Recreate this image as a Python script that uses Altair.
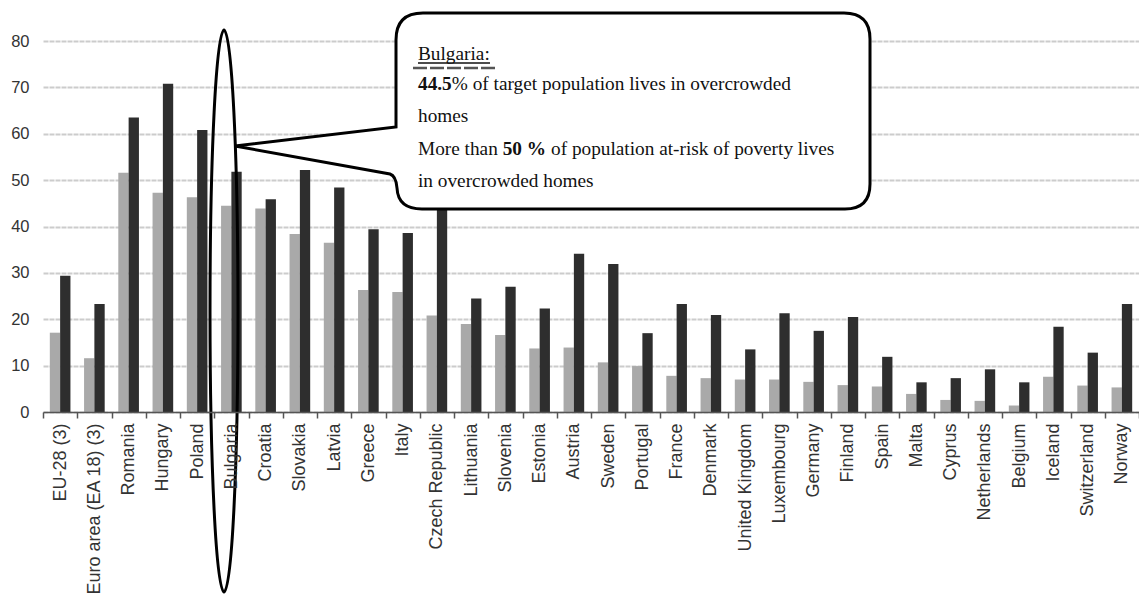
import altair as alt
import pandas as pd

# Overcrowding rate (%) by country
countries = [
    "EU-28 (3)", "Euro area (EA 18) (3)", "Romania", "Hungary", "Poland", "Bulgaria",
    "Croatia", "Slovakia", "Latvia", "Greece", "Italy", "Czech Republic", "Lithuania",
    "Slovenia", "Estonia", "Austria", "Sweden", "Portugal", "France", "Denmark",
    "United Kingdom", "Luxembourg", "Germany", "Finland", "Spain", "Malta", "Cyprus",
    "Netherlands", "Belgium", "Iceland", "Switzerland", "Norway",
]
total_population = [
    17.1, 11.6, 51.6, 47.3, 46.3, 44.5, 43.9, 38.4, 36.5, 26.3, 25.9, 20.8, 19.0,
    16.6, 13.7, 13.9, 10.7, 9.9, 7.8, 7.3, 7.0, 7.0, 6.5, 5.8, 5.5, 3.9, 2.6,
    2.4, 1.4, 7.6, 5.7, 5.3,
]
at_risk_of_poverty = [
    29.4, 23.3, 63.5, 70.8, 60.8, 51.8, 45.9, 52.2, 48.4, 39.4, 38.6, 43.6, 24.5,
    27.0, 22.3, 34.1, 31.9, 17.0, 23.3, 20.9, 13.5, 21.3, 17.5, 20.5, 11.9, 6.4, 7.3,
    9.2, 6.4, 18.4, 12.8, 23.3,
]
y_ticks = [0, 10, 20, 30, 40, 50, 60, 70, 80]

series = ["Total population", "Population at risk of poverty"]
series_colors = ["#a9a9a9", "#2e2e2e"]

rows = []
for c, a, b in zip(countries, total_population, at_risk_of_poverty):
    rows.append({"country": c, "series": series[0], "rate": a})
    rows.append({"country": c, "series": series[1], "rate": b})
bars_df = pd.DataFrame(rows)

# plot origin inside the page (padding)
OX, OY = 43, 41
PLOT_W, PLOT_H = 1096, 371
PAGE_H = 612

bars = alt.Chart(bars_df).mark_bar().encode(
    x=alt.X(
        "country:N",
        sort=countries,
        scale=alt.Scale(paddingInner=0, paddingOuter=0),
        axis=alt.Axis(
            title=None,
            labelAngle=-90,
            labelAlign="right",
            labelBaseline="middle",
            labelFont="Liberation Sans",
            labelFontSize=18,
            labelColor="#333333",
            labelPadding=5,
            tickBand="extent",
            tickSize=6,
            tickColor="#555555",
            tickWidth=1.5,
            domainColor="#555555",
            domainWidth=1.5,
            grid=False,
            zindex=1,
        ),
    ),
    xOffset=alt.XOffset(
        "series:N", sort=series, scale=alt.Scale(paddingInner=0, paddingOuter=0.66)
    ),
    y=alt.Y(
        "rate:Q",
        scale=alt.Scale(domain=[0, 80], nice=False),
        axis=alt.Axis(
            title=None,
            values=y_ticks,
            labelFont="Liberation Sans",
            labelFontSize=16.5,
            labelColor="#333333",
            labelPadding=14,
            ticks=False,
            domain=False,
            grid=True,
            gridColor="#cccccc",
            gridWidth=2,
            gridDash=[5, 1],
            zindex=0,
        ),
    ),
    color=alt.Color(
        "series:N",
        sort=series,
        scale=alt.Scale(domain=series, range=series_colors),
        legend=None,
    ),
)

one = pd.DataFrame({"k": [0]})


def page_point(shape_path, filled):
    """Custom outline drawn in page pixel coordinates (size 4 -> unit scale)."""
    return alt.Chart(one).mark_point(
        shape=shape_path,
        size=4,
        filled=filled,
        fill="white" if filled else "transparent",
        stroke="black",
        strokeWidth=3,
        opacity=1,
    ).encode(x=alt.value(-OX), y=alt.value(-OY))


# Ellipse around Bulgaria
ellipse_path = (
    "M 224 30 C 231.7 30 238 155.8 238 311 "
    "C 238 466.2 231.7 592 224 592 "
    "C 216.3 592 210 466.2 210 311 "
    "C 210 155.8 216.3 30 224 30 Z"
)

# Rounded callout box with pointer
callout_path = (
    "M 396 127 L 396 40 Q 396 13 423 13 "
    "L 844 13 Q 870 13 870 39 "
    "L 870 184 Q 870 209 845 209 "
    "L 422 209 Q 398 209 397 188 "
    "Q 396 176 390 174 "
    "L 235 146 L 396 127 Z"
)


def label(text, x, y, bold=False):
    return alt.Chart(one).mark_text(
        text=text,
        font="Liberation Serif",
        fontSize=19.3,
        fontWeight="bold" if bold else "normal",
        align="left",
        baseline="alphabetic",
        color="#111111",
    ).encode(x=alt.value(x - OX), y=alt.value(y - OY))


def hline(x1, x2, y, color, width, dash=None):
    kw = dict(color=color, strokeWidth=width)
    if dash:
        kw["strokeDash"] = dash
    return alt.Chart(one).mark_rule(**kw).encode(
        x=alt.value(x1 - OX), x2=alt.value(x2 - OX), y=alt.value(y - OY)
    )


text_layers = [
    label("Bulgaria:", 418, 60),
    hline(418, 490, 63, "#111111", 1.5),
    hline(413, 497, 68, "#555555", 2.5, [14, 3]),
    label("44.5", 418, 90, bold=True),
    label("% of target population lives in overcrowded", 451.8, 90),
    label("homes", 418, 122),
    label("More than", 418, 155),
    label("50 %", 502.7, 155, bold=True),
    label("of population at-risk of poverty lives", 551.0, 155),
    label("in overcrowded homes", 418, 187),
]

chart = alt.layer(
    bars,
    page_point(ellipse_path, False),
    page_point(callout_path, True),
    *text_layers,
).properties(
    width=PLOT_W,
    height=PLOT_H,
    autosize=alt.AutoSizeParams(type="none"),
    padding={"left": OX, "top": OY, "right": 0, "bottom": PAGE_H - OY - PLOT_H},
    background="white",
).configure_view(stroke=None)

chart.save("out.html", embed_options={"renderer": "svg", "actions": False})
